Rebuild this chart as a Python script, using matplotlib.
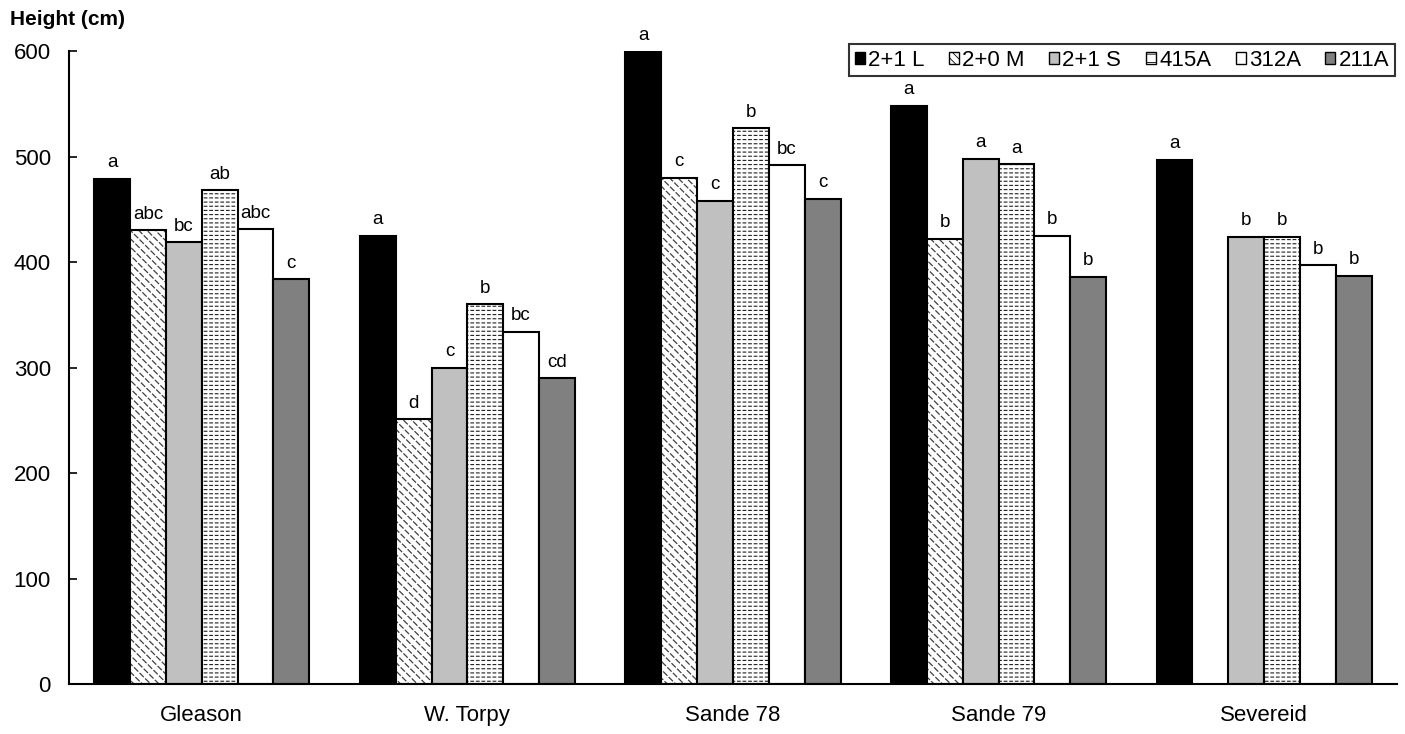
import numpy as np
import matplotlib as mpl
import matplotlib.pyplot as plt

plt.rcParams['font.family'] = ['Liberation Sans', 'DejaVu Sans']

sites = ["Gleason", "W. Torpy", "Sande 78", "Sande 79", "Severeid"]
stock = ["2+1 L", "2+0 M", "2+1 S", "415A", "312A", "211A"]

h_21L = [479, 425, 600, 548, 497]
h_20M = [430, 251, 480, 422, np.nan]
h_21S = [419, 300, 458, 498, 424]
h_415A = [468, 360, 527, 493, 424]
h_312A = [431, 334, 492, 425, 397]
h_211A = [384, 290, 460, 386, 387]

let_21L = ["a", "a", "a", "a", "a"]
let_20M = ["abc", "d", "c", "b", ""]
let_21S = ["bc", "c", "c", "a", "b"]
let_415A = ["ab", "b", "b", "a", "b"]
let_312A = ["abc", "bc", "bc", "b", "b"]
let_211A = ["c", "cd", "c", "b", "b"]

series = [h_21L, h_20M, h_21S, h_415A, h_312A, h_211A]
letters = [let_21L, let_20M, let_21S, let_415A, let_312A, let_211A]
# facecolor, hatch, hatch colour, hatch width, white "breaker" hatch
styles = [
    ("black", None, None, 0.6, None),
    ("white", "\\\\\\\\", "#404040", 0.9, "///"),
    ("#c0c0c0", None, None, 0.6, None),
    ("white", "----", "#202020", 0.8, "|||"),
    ("white", None, None, 0.6, None),
    ("#808080", None, None, 0.6, None),
]

fig, ax = plt.subplots(figsize=(14.05, 7.34), dpi=100)
fig.subplots_adjust(left=0.0491, right=0.9943, bottom=0.068, top=0.9305)

x = np.arange(len(sites))
w = 0.135
handles = []
for i, (vals, labs, st, name) in enumerate(zip(series, letters, styles, stock)):
    fc, hatch, hcol, hlw, breaker = st
    pos = x + (i - 2.5) * w
    mpl.rcParams['hatch.linewidth'] = hlw
    ax.bar(pos, vals, w, facecolor=fc, hatch=hatch,
           edgecolor=hcol if hcol else fc, linewidth=0)
    if breaker:
        # white lines across the hatch make it look dashed
        mpl.rcParams['hatch.linewidth'] = 1.3
        ax.bar(pos, vals, w, facecolor="none", hatch=breaker,
               edgecolor="white", linewidth=0)
    ax.bar(pos, vals, w, facecolor="none", edgecolor="black", linewidth=1.5)
    mpl.rcParams['hatch.linewidth'] = 0.6
    handles.append(plt.Rectangle((0, 0), 1, 1, facecolor=fc,
                                 hatch=("\\\\\\\\" if hatch and "\\" in hatch else
                                        ("--" if hatch else None)),
                                 edgecolor="black", linewidth=1))
    for p, v, t in zip(pos, vals, labs):
        if not np.isnan(v) and t:
            ax.text(p, v + 7, t, ha="center", va="bottom", fontsize=13.5)

ax.set_xlim(-0.5, 4.5)
ax.set_ylim(0, 600)
ax.set_yticks(range(0, 601, 100))
ax.set_xticks(x)
ax.set_xticklabels(sites, fontsize=16)
ax.tick_params(axis="x", length=0, pad=15)
ax.tick_params(axis="y", labelsize=16, direction="in", length=6, width=1.2, pad=13)
ax.spines["top"].set_visible(False)
ax.spines["right"].set_visible(False)
ax.spines["left"].set_linewidth(1.5)
ax.spines["bottom"].set_linewidth(1.5)

fig.text(0.0071, 1 - 10 / 734, "Height (cm)", fontsize=15,
         fontweight="bold", ha="left", va="top")

leg = ax.legend(handles, stock, ncol=6, loc="upper right",
                bbox_to_anchor=(0.9985, 1.011), borderaxespad=0,
                fontsize=16, frameon=True, fancybox=False, edgecolor="black",
                handlelength=0.45, handleheight=0.45, handletextpad=0.15,
                columnspacing=1.1, borderpad=0.25)
leg.get_frame().set_linewidth(1.5)

plt.savefig("out.png", dpi=100)
plt.close()
